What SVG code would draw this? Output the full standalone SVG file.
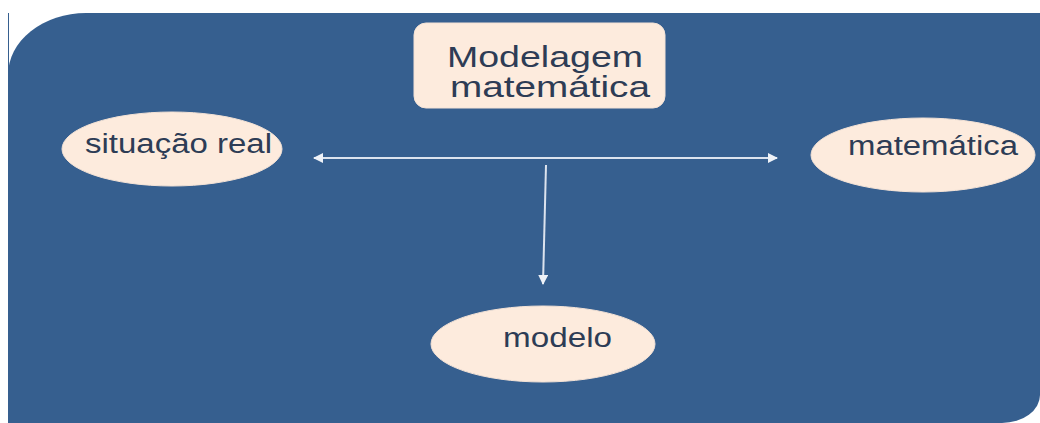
<svg xmlns="http://www.w3.org/2000/svg" width="1040" height="423" viewBox="0 0 1040 423">
<defs>
<style>
.node{fill:#FDEBDD;stroke:#F3E2D6;stroke-width:1}
.lbl{font-family:"Liberation Sans",Arial,sans-serif;fill:#2D3C55}
.conn{stroke:#DCE3EE;stroke-width:2;fill:none}
</style>
<marker id="ah" viewBox="0 0 10 10" refX="9" refY="5" markerWidth="5" markerHeight="5" orient="auto-start-reverse" markerUnits="strokeWidth">
<path d="M0,0 L10,5 L0,10 Z" fill="#EEF2F8"/>
</marker>
</defs>
<rect width="1040" height="423" fill="#FFFFFF"/>
<path d="M8,423 V75 A78,62 0 0 1 86,13 H1040 V395 A38,28 0 0 1 1002,423 Z" fill="#365F8F"/>
<line x1="8.5" y1="13" x2="8.5" y2="80" stroke="#365F8F" stroke-width="1"/>
<g id="connectors">
<line class="conn" x1="314" y1="158" x2="777" y2="158" marker-start="url(#ah)" marker-end="url(#ah)"/>
<line class="conn" x1="546" y1="165" x2="543" y2="284" marker-end="url(#ah)"/>
</g>
<g id="title">
<rect class="node" x="414" y="23" width="251" height="85" rx="12" ry="12"/>
<text class="lbl" x="447" y="67" font-size="30" textLength="196" lengthAdjust="spacingAndGlyphs">Modelagem</text>
<text class="lbl" x="450" y="97" font-size="30" textLength="200" lengthAdjust="spacingAndGlyphs">matemática</text>
</g>
<g id="situacao">
<ellipse class="node" cx="172" cy="149" rx="110" ry="37"/>
<text class="lbl" x="85" y="153" font-size="27" textLength="187" lengthAdjust="spacingAndGlyphs">situação real</text>
</g>
<g id="matematica">
<ellipse class="node" cx="923" cy="155" rx="112" ry="37"/>
<text class="lbl" x="848" y="155" font-size="27" textLength="170" lengthAdjust="spacingAndGlyphs">matemática</text>
</g>
<g id="modelo">
<ellipse class="node" cx="543" cy="344" rx="112" ry="38"/>
<text class="lbl" x="503" y="347" font-size="27" textLength="109" lengthAdjust="spacingAndGlyphs">modelo</text>
</g>
</svg>
